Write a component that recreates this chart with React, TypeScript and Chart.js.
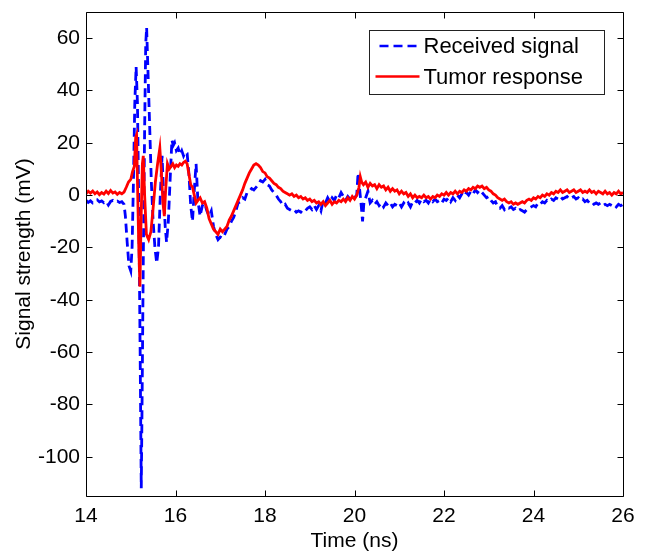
import { useEffect, useRef } from "react";
import { Chart, registerables } from "chart.js";

Chart.register(...registerables);

// ---------- data ----------
const xTickValues = [14, 16, 18, 20, 22, 24, 26];
const yTickValues = [-100, -80, -60, -40, -20, 0, 20, 40, 60];
const xLimits = [14, 26];
const yLimits = [-115, 70];

const seriesLabels = ["Received signal", "Tumor response"];
const xTitle = "Time (ns)";
const yTitle = "Signal strength (mV)";

const receivedTimeNs = [
  14.0, 14.05, 14.1, 14.15, 14.2, 14.25, 14.3, 14.35, 14.4, 14.45,
  14.5, 14.55, 14.6, 14.65, 14.7, 14.75, 14.8, 14.85, 14.88, 14.92,
  14.96, 15.0, 15.03, 15.06, 15.09, 15.12, 15.15, 15.18, 15.21, 15.235,
  15.25, 15.28, 15.31, 15.335, 15.355, 15.38, 15.42, 15.46, 15.5, 15.54,
  15.58, 15.62, 15.66, 15.7, 15.73, 15.77, 15.8, 15.84, 15.88, 15.92,
  15.95, 15.98, 16.02, 16.06, 16.1, 16.14, 16.18, 16.22, 16.26, 16.3,
  16.34, 16.38, 16.42, 16.46, 16.5,
  16.55, 16.6, 16.65, 16.7, 16.75, 16.8, 16.85, 16.9, 16.95,
  17.0, 17.05, 17.1, 17.15, 17.2, 17.25, 17.3, 17.35, 17.4, 17.45,
  17.5, 17.55, 17.6, 17.65, 17.7, 17.75, 17.8, 17.85, 17.9, 17.95,
  18.0, 18.05, 18.1, 18.15, 18.2, 18.25, 18.3, 18.35, 18.4, 18.45,
  18.5, 18.55, 18.6, 18.65, 18.7, 18.75, 18.8, 18.85, 18.9, 18.95,
  19.0, 19.05, 19.1, 19.15, 19.2, 19.25, 19.3, 19.35, 19.4, 19.45,
  19.5, 19.55, 19.6, 19.65, 19.7, 19.75, 19.8, 19.85, 19.9, 19.95,
  20.0, 20.05, 20.08, 20.11, 20.14, 20.18, 20.21, 20.25,
  20.3, 20.35, 20.4, 20.45,
  20.5, 20.55, 20.6, 20.65, 20.7, 20.75, 20.8, 20.85, 20.9, 20.95,
  21.0, 21.05, 21.1, 21.15, 21.2, 21.25, 21.3, 21.35, 21.4, 21.45,
  21.5, 21.55, 21.6, 21.65, 21.7, 21.75, 21.8, 21.85, 21.9, 21.95,
  22.0, 22.05, 22.1, 22.15, 22.2, 22.25, 22.3, 22.35, 22.4, 22.45,
  22.5, 22.55, 22.6, 22.65, 22.7, 22.75, 22.8, 22.85, 22.9, 22.95,
  23.0, 23.05, 23.1, 23.15, 23.2, 23.25, 23.3, 23.35, 23.4, 23.45,
  23.5, 23.55, 23.6, 23.65, 23.7, 23.75, 23.8, 23.85, 23.9, 23.95,
  24.0, 24.05, 24.1, 24.15, 24.2, 24.25, 24.3, 24.35, 24.4, 24.45,
  24.5, 24.55, 24.6, 24.65, 24.7, 24.75, 24.8, 24.85, 24.9, 24.95,
  25.0, 25.05, 25.1, 25.15, 25.2, 25.25, 25.3, 25.35, 25.4, 25.45,
  25.5, 25.55, 25.6, 25.65, 25.7, 25.75, 25.8, 25.85, 25.9, 25.95,
  26.0,
];

const receivedMv = [
  -2.0, -2.8, -2.2, -3.0, -2.4, -1.8, -2.6, -2.2, -2.9, -2.3,
  -3.8, -2.4, -2.0, -2.7, -2.3, -2.8, -2.5, -3.5, -8, -18,
  -27, -29, -20, 5, 35, 49, 35, -5, -60, -112,
  -85, -25, 25, 58, 64, 50, 28, 5, -10, -20,
  -26, -20, 0, 15, 2, -12, -18, -10, 6, 21,
  19, 20, 17, 18, 15.5, 17, 15, 16.5, 16, 8,
  -4, -10, 2, 12, -2,
  -8, -4, -3, -6, -8, -6, -12, -15, -17,
  -16, -16.5, -15, -13, -12, -10, -8.5, -6, -3, -2.5,
  -1, -1.5, 1, 1.5, 2.5, 2, 3, 4, 5.5, 5,
  6, 4, 3.5, 2, 1, 0, -1.5, -2.5, -4, -3.5,
  -5, -5.5, -6, -5.5, -6.5, -6, -6.5, -5.5, -6, -5,
  -4.5, -5.5, -4, -5.5, -4, -6, -2, -3, -1, -2.5,
  -1, -2, 0, -1, 1, -0.5, -2, -0.5, -1.5, -0.5,
  -1, 0, 8.5, 3, -2, -10, -3, -1,
  1.5, -3, -2, -3.5,
  -2.5, -4, -3, -4.5, -3, -4, -3, -4.5, -3.5, -4,
  -3, -4.5, -3, -4, -3, -4.5, -2.5, -3, -2, -3,
  -1.5, -2.5, -2, -3, -1.5, -2.5, -1.5, -2.5, -2, -3,
  -1.5, -2, -1, -2.5, -1, -2, 0, -1, 0.5, -0.5,
  1, 0, 1.5, 0.5, 2, 1, 2, 1, 0, -1,
  -0.5, -2, -3, -2.5, -4.5, -5, -4, -5.5, -4.5, -5,
  -4.5, -5.5, -5, -6, -5.5, -6, -6.5, -5.5, -5, -4.5,
  -4, -4.5, -3, -3.5, -2.5, -3, -2, -2.5, -1.5, -2,
  -1, -1.5, -0.5, -1.5, -1, -0.5, -1.5, -1, -0.5, -1.5,
  -1, -2, -1.5, -2.5, -2, -3, -2.5, -3.5, -3, -3.5,
  -3, -4, -3.5, -4, -3.5, -4, -3.5, -4.5, -3.5, -4,
  -3.5,
];

const tumorTimeNs = [
  14.0, 14.05, 14.1, 14.15, 14.2, 14.25, 14.3, 14.35, 14.4, 14.45,
  14.5, 14.55, 14.6, 14.65, 14.7, 14.75, 14.8, 14.85,
  14.9, 14.95, 15.0, 15.04, 15.08, 15.11, 15.13, 15.15, 15.18, 15.205,
  15.23, 15.26, 15.28, 15.31, 15.35, 15.4, 15.45, 15.5, 15.55, 15.6,
  15.65, 15.68, 15.72, 15.75, 15.78, 15.82, 15.86, 15.9, 15.94, 15.98,
  16.02, 16.06, 16.1, 16.14, 16.18, 16.22, 16.26, 16.3, 16.34, 16.38,
  16.42, 16.46,
  16.5, 16.55, 16.6, 16.65, 16.7, 16.75, 16.8, 16.85, 16.9, 16.95,
  17.0, 17.05, 17.1, 17.15, 17.2, 17.25, 17.3, 17.35, 17.4, 17.45,
  17.5, 17.55, 17.6, 17.65, 17.7, 17.75, 17.8, 17.85, 17.9, 17.95,
  18.0, 18.05, 18.1, 18.15, 18.2, 18.25, 18.3, 18.35, 18.4, 18.45,
  18.5, 18.55, 18.6, 18.65, 18.7, 18.75, 18.8, 18.85, 18.9, 18.95,
  19.0, 19.05, 19.1, 19.15, 19.2, 19.25, 19.3, 19.35, 19.4, 19.45,
  19.5, 19.55, 19.6, 19.65, 19.7, 19.75, 19.8, 19.85, 19.9, 19.95,
  20.0, 20.05, 20.1, 20.13, 20.16, 20.2, 20.25,
  20.3, 20.35, 20.4, 20.45,
  20.5, 20.55, 20.6, 20.65, 20.7, 20.75, 20.8, 20.85, 20.9, 20.95,
  21.0, 21.05, 21.1, 21.15, 21.2, 21.25, 21.3, 21.35, 21.4, 21.45,
  21.5, 21.55, 21.6, 21.65, 21.7, 21.75, 21.8, 21.85, 21.9, 21.95,
  22.0, 22.05, 22.1, 22.15, 22.2, 22.25, 22.3, 22.35, 22.4, 22.45,
  22.5, 22.55, 22.6, 22.65, 22.7, 22.75, 22.8, 22.85, 22.9, 22.95,
  23.0, 23.05, 23.1, 23.15, 23.2, 23.25, 23.3, 23.35, 23.4, 23.45,
  23.5, 23.55, 23.6, 23.65, 23.7, 23.75, 23.8, 23.85, 23.9, 23.95,
  24.0, 24.05, 24.1, 24.15, 24.2, 24.25, 24.3, 24.35, 24.4, 24.45,
  24.5, 24.55, 24.6, 24.65, 24.7, 24.75, 24.8, 24.85, 24.9, 24.95,
  25.0, 25.05, 25.1, 25.15, 25.2, 25.25, 25.3, 25.35, 25.4, 25.45,
  25.5, 25.55, 25.6, 25.65, 25.7, 25.75, 25.8, 25.85, 25.9, 25.95,
  26.0,
];

const tumorMv = [
  0.5, 1.5, 0.8, 1.6, 0.5, 1.2, 0.2, 1.0, 0.4, 1.5,
  0.6, 1.8, 0.8, 1.2, 0.3, 1.0, 0.5, 1.2,
  3, 5, 6, 9, 11, 22, 23, 5, -20, -35,
  -10, 12, 15, 0, -15, -17, -14, -5, 5, 12,
  18, 10, -3, -8, 2, 12, 10, 11, 12, 10.5,
  11.5, 11, 12, 11.5, 12.5, 13, 12, 8, 4, 3,
  0, -3,
  -2, -1, -3, -2.5, -5, -9, -11, -13, -14, -15,
  -13, -14, -13, -12, -9.5, -8, -6, -4, -2, 0,
  2, 4.5, 6.5, 8.5, 10, 11.5, 12, 11.5, 10.5, 9,
  8.5, 7, 6.5, 5.5, 4.5, 4, 3, 2.5, 1.5, 1,
  0.5, 0, 0.5, -0.5, 0, -1, -0.5, -1.5, -1, -2,
  -1.5, -2.5, -2, -3, -2.5, -3.5, -2.5, -4, -3, -2,
  -3.5, -2.5, -3, -2, -2.5, -1.5, -2.5, -1, -2, -0.5,
  -1.5, 0, 3, 7, 5, 4, 5,
  3, 4.5, 3.5, 4,
  2.5, 4, 3, 3.5, 2, 3, 1.5, 2.5, 1.5, 2,
  0.5, 1.5, 0.5, 1, -0.5, 0.5, -1, 0, -1, -0.5,
  -1, 0, -1, -0.5, -1.5, -0.5, -1, 0, -0.5, 0.5,
  0, 1, 0, 1, 0.5, 1.5, 0.5, 1.5, 1, 2,
  1.5, 2.5, 2, 3, 2.5, 3.5, 3, 3.5, 2.5, 3,
  2, 1.5, 0.5, 0, -1, -1.5, -2, -1.5, -2.5, -3,
  -2.5, -3.5, -3, -3.5, -3, -2.5, -3, -2, -1.5, -2,
  -1, -1.5, -0.5, -1, 0, -0.5, 0.5, 0, 1, 0.5,
  1.5, 1, 2, 1, 1.5, 2, 1, 1.5, 2, 1,
  1.5, 2, 1, 1.5, 1, 2, 1, 1.5, 0.5, 1.5,
  1, 0.5, 1.5, 0.5, 1, 0, 1, 0.5, 1.5, 0.5,
  1,
];

// ---------- styling ----------
const FONT_FAMILY = "'Liberation Sans', Arial, Helvetica, sans-serif";
const TICK_FONT = { family: FONT_FAMILY, size: 21 };
const LEGEND_FONT_SIZE = 22;
const COLORS = ["#0000ff", "#ff0000"];
const DASHES: number[][] = [[9, 5], []];

const CANVAS_W = 657;
const CANVAS_H = 552;

function toPoints(xs: number[], ys: number[]) {
  return xs.map((x, i) => ({ x, y: ys[i] }));
}

const framePlugin = {
  id: "matlabFrame",
  afterDraw(chart: any) {
    const { ctx, chartArea: a, scales } = chart;
    const L = Math.round(a.left) + 0.5;
    const R = Math.round(a.right) + 0.5;
    const T = Math.round(a.top) + 0.5;
    const B = Math.round(a.bottom) + 0.5;
    const tick = 6;
    ctx.save();
    ctx.strokeStyle = "#000";
    ctx.lineWidth = 1;
    ctx.setLineDash([]);
    ctx.beginPath();
    ctx.rect(L, T, R - L, B - T);
    xTickValues.forEach((v) => {
      const px = Math.round(scales.x.getPixelForValue(v)) + 0.5;
      ctx.moveTo(px, B);
      ctx.lineTo(px, B - tick);
      ctx.moveTo(px, T);
      ctx.lineTo(px, T + tick);
    });
    yTickValues.forEach((v) => {
      const py = Math.round(scales.y.getPixelForValue(v)) + 0.5;
      ctx.moveTo(L, py);
      ctx.lineTo(L + tick, py);
      ctx.moveTo(R, py);
      ctx.lineTo(R - tick, py);
    });
    ctx.stroke();

    // legend box (inside upper-right corner of axes)
    const boxW = 235;
    const boxH = 64;
    const bx = Math.round(a.right) - 19 - boxW + 0.5;
    const by = Math.round(a.top) + 18 + 0.5;
    ctx.fillStyle = "#fff";
    ctx.fillRect(bx, by, boxW, boxH);
    ctx.strokeStyle = "#222";
    ctx.strokeRect(bx, by, boxW, boxH);

    const rows = [15.5, 46];
    chart.data.datasets.forEach((ds: any, i: number) => {
      const y = by + rows[i];
      ctx.save();
      ctx.strokeStyle = ds.borderColor;
      ctx.lineWidth = 2.5;
      ctx.setLineDash(ds.borderDash || []);
      ctx.beginPath();
      ctx.moveTo(bx + (i === 0 ? 10 : 6), y);
      ctx.lineTo(bx + 50, y);
      ctx.stroke();
      ctx.restore();
      ctx.fillStyle = "#000";
      ctx.font = `${LEGEND_FONT_SIZE}px ${FONT_FAMILY}`;
      ctx.textAlign = "left";
      ctx.textBaseline = "middle";
      ctx.fillText(ds.label, bx + 54, y + 1);
    });
    ctx.restore();
  },
};

export default function App() {
  const canvasRef = useRef<HTMLCanvasElement | null>(null);

  useEffect(() => {
    const canvas = canvasRef.current;
    if (!canvas) return;
    const chart = new Chart(canvas, {
      type: "line",
      data: {
        datasets: [
          {
            label: seriesLabels[0],
            data: toPoints(receivedTimeNs, receivedMv),
            borderColor: COLORS[0],
            backgroundColor: COLORS[0],
            borderDash: DASHES[0],
            borderWidth: 2.8,
            pointRadius: 0,
            tension: 0,
            fill: false,
            order: 2,
          },
          {
            label: seriesLabels[1],
            data: toPoints(tumorTimeNs, tumorMv),
            borderColor: COLORS[1],
            backgroundColor: COLORS[1],
            borderDash: DASHES[1],
            borderWidth: 2.8,
            pointRadius: 0,
            tension: 0,
            fill: false,
            order: 1,
          },
        ],
      },
      options: {
        animation: false,
        responsive: false,
        maintainAspectRatio: false,
        devicePixelRatio: 1,
        layout: { padding: { top: 12, right: 34, bottom: 0, left: 0 } },
        plugins: {
          legend: { display: false },
          tooltip: { enabled: false },
        },
        scales: {
          x: {
            type: "linear",
            min: xLimits[0],
            max: xLimits[1],
            afterBuildTicks: (s: any) => {
              s.ticks = xTickValues.map((v) => ({ value: v }));
            },
            afterFit: (s: any) => {
              s.height = 56;
              s.paddingLeft = 0;
              s.paddingRight = 0;
            },
            grid: { display: false, drawTicks: false },
            border: { display: false },
            ticks: {
              font: TICK_FONT,
              color: "#000",
              padding: 8,
              maxRotation: 0,
              autoSkip: false,
            },
            title: {
              display: true,
              text: xTitle,
              font: { family: FONT_FAMILY, size: 21, lineHeight: 1 },
              color: "#000",
              padding: { top: 0, bottom: 0 },
            },
          },
          y: {
            type: "linear",
            min: yLimits[0],
            max: yLimits[1],
            afterBuildTicks: (s: any) => {
              s.ticks = yTickValues.map((v) => ({ value: v }));
            },
            afterFit: (s: any) => {
              s.width = 86;
              s.paddingTop = 0;
              s.paddingBottom = 0;
            },
            grid: { display: false, drawTicks: false },
            border: { display: false },
            ticks: {
              font: TICK_FONT,
              color: "#000",
              padding: 6,
              autoSkip: false,
            },
            title: {
              display: true,
              text: yTitle,
              font: { family: FONT_FAMILY, size: 21, lineHeight: 1 },
              color: "#000",
              padding: { top: 14, bottom: 0 },
            },
          },
        },
      },
      plugins: [framePlugin],
    });
    return () => chart.destroy();
  }, []);

  return (
    <div
      style={{
        position: "absolute",
        left: 0,
        top: 0,
        width: CANVAS_W,
        height: CANVAS_H,
        background: "#fff",
      }}
    >
      <canvas
        ref={canvasRef}
        width={CANVAS_W}
        height={CANVAS_H}
        style={{ display: "block", width: CANVAS_W, height: CANVAS_H }}
      />
    </div>
  );
}
